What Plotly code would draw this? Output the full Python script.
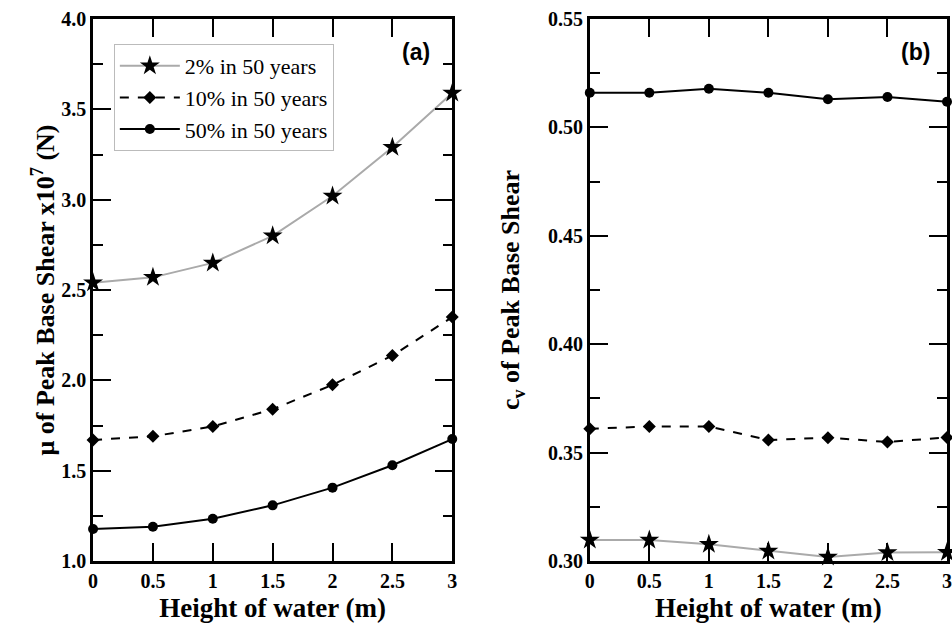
import plotly.graph_objects as go

heights = [0, 0.5, 1, 1.5, 2, 2.5, 3]
x_tick_labels = ["0", "0.5", "1", "1.5", "2", "2.5", "3"]
series_names = ["2% in 50 years", "10% in 50 years", "50% in 50 years"]

mu_2 = [2.54, 2.57, 2.65, 2.80, 3.02, 3.29, 3.59]
mu_10 = [1.67, 1.69, 1.745, 1.84, 1.975, 2.137, 2.35]
mu_50 = [1.177, 1.19, 1.234, 1.308, 1.406, 1.53, 1.675]

cv_2 = [0.3097, 0.3097, 0.3077, 0.3046, 0.3018, 0.3039, 0.304]
cv_10 = [0.361, 0.362, 0.362, 0.3558, 0.3569, 0.3549, 0.357]
cv_50 = [0.516, 0.516, 0.5178, 0.516, 0.513, 0.514, 0.5118]

mu_ticks = [1.0, 1.5, 2.0, 2.5, 3.0, 3.5, 4.0]
mu_tick_labels = ["1.0", "1.5", "2.0", "2.5", "3.0", "3.5", "4.0"]
cv_ticks = [0.30, 0.35, 0.40, 0.45, 0.50, 0.55]
cv_tick_labels = ["0.30", "0.35", "0.40", "0.45", "0.50", "0.55"]

styles = [
    dict(line=dict(color="#aaaaaa", width=2, dash="solid"),
         marker=dict(symbol="star", size=15, color="black")),
    dict(line=dict(color="black", width=2, dash="dash"),
         marker=dict(symbol="diamond", size=10, color="black")),
    dict(line=dict(color="black", width=2, dash="solid"),
         marker=dict(symbol="circle", size=10, color="black")),
]

fig = go.Figure()
for name, ys, st in zip(series_names, [mu_2, mu_10, mu_50], styles):
    fig.add_trace(go.Scatter(x=heights, y=ys, name=name, mode="lines+markers",
                             line=st["line"], marker=st["marker"],
                             xaxis="x", yaxis="y", cliponaxis=False))
for name, ys, st in zip(series_names, [cv_2, cv_10, cv_50], styles):
    fig.add_trace(go.Scatter(x=heights, y=ys, name=name, mode="lines+markers",
                             line=st["line"], marker=st["marker"],
                             xaxis="x2", yaxis="y2", showlegend=False, cliponaxis=False))

W, H = 952, 623
serif = "Liberation Serif, Times New Roman, serif"
tickfont = dict(family=serif, size=20, color="black")
xtitlefont = dict(family=serif, size=27, color="black")
ytitlefont = dict(family=serif, size=26, color="black")

def bold(labels):
    return ["<b>" + s + "</b>" for s in labels]

common_x = dict(range=[0, 3], tickvals=heights, ticktext=bold(x_tick_labels),
                ticks="inside", ticklen=18, tickwidth=2, tickcolor="black",
                showline=True, linewidth=2.5, linecolor="black", mirror="ticks",
                showgrid=False, zeroline=False, tickfont=tickfont,
                ticklabeloverflow="allow",
                title=dict(text="<b>Height of water (m)</b>", font=xtitlefont, standoff=9))
common_y = dict(ticks="inside", ticklen=18, tickwidth=2, tickcolor="black",
                showline=True, linewidth=2.5, linecolor="black", mirror="ticks",
                showgrid=False, zeroline=False, tickfont=tickfont)

fig.update_layout(
    width=W, height=H,
    margin=dict(l=0, r=0, t=19, b=62),
    paper_bgcolor="white", plot_bgcolor="white",
    xaxis=dict(domain=[89 / W, 452 / W], anchor="y", **common_x),
    xaxis2=dict(domain=[591 / W, 1.0], anchor="y2", **common_x),
    yaxis=dict(domain=[0, 1], anchor="x", range=[1.0, 4.0], tickvals=mu_ticks,
               ticktext=bold(mu_tick_labels),
               minor=dict(dtick=0.25, ticks="inside", ticklen=10, tickwidth=2, tickcolor="black"),
               title=dict(text="<b>μ of Peak Base Shear x10<sup>7</sup> (N)</b>", font=ytitlefont, standoff=0),
               **common_y),
    yaxis2=dict(domain=[0, 1], anchor="x2", range=[0.30, 0.55], tickvals=cv_ticks,
                ticktext=bold(cv_tick_labels),
                minor=dict(dtick=0.025, ticks="inside", ticklen=10, tickwidth=2, tickcolor="black"),
                title=dict(text="<b>c<sub>v</sub> of Peak Base Shear</b>", font=ytitlefont, standoff=21),
                **common_y),
    legend=dict(x=110 / W, y=1 - 25 / 542, xanchor="left", yanchor="top",
                bgcolor="white", bordercolor="#bbbbbb", borderwidth=1,
                font=dict(family=serif, size=22, color="black"),
                itemwidth=60, tracegroupgap=0),
    showlegend=True,
    annotations=[
        dict(text="<b>(a)</b>", x=3, y=3.82, xref="x", yref="y", xanchor="right",
             xshift=-20, showarrow=False,
             font=dict(family="Liberation Sans, Arial, sans-serif", size=23, color="black")),
        dict(text="<b>(b)</b>", x=3, y=0.5348, xref="x2", yref="y2", xanchor="right",
             xshift=-15, showarrow=False,
             font=dict(family="Liberation Sans, Arial, sans-serif", size=23, color="black")),
    ],
)

fig.write_html("out.html")
